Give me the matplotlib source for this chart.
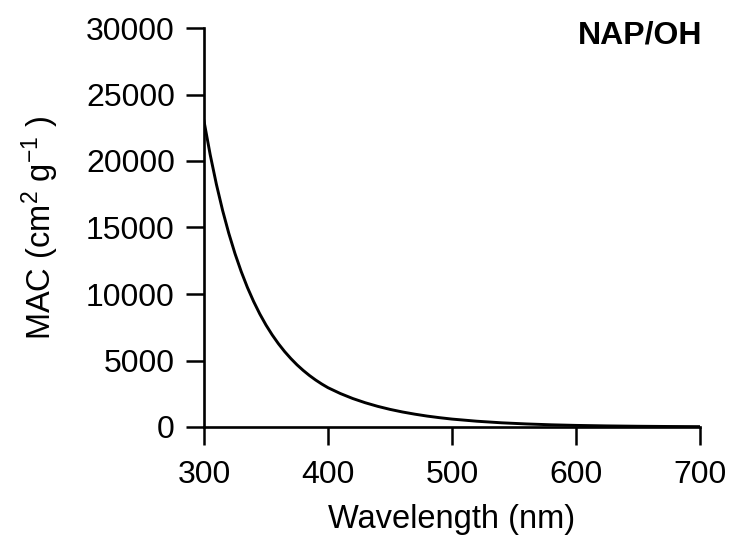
import matplotlib
matplotlib.use("Agg")
import matplotlib.pyplot as plt

plt.rcParams["font.family"] = ["Liberation Sans", "DejaVu Sans"]
plt.rcParams["mathtext.default"] = "regular"

# values
wavelength = [300, 305, 310, 315, 320, 325, 330, 335, 340, 345, 350, 355,
              360, 365, 370, 375, 380, 385, 390, 395, 400, 410, 420, 430,
              440, 450, 460, 470, 480, 490, 500, 520, 540, 560, 580, 600,
              625, 650, 675, 700]
mac = [23000, 20470, 18245, 16285, 14560, 13035, 11690, 10495, 9440, 8500,
       7665, 6925, 6265, 5675, 5150, 4675, 4255, 3875, 3535, 3230, 2955,
       2515, 2140, 1825, 1555, 1325, 1130, 965, 820, 700, 595, 435, 315,
       230, 165, 120, 82, 56, 38, 26]
x_ticks = [300, 400, 500, 600, 700]
y_ticks = [0, 5000, 10000, 15000, 20000, 25000, 30000]

fig = plt.figure(figsize=(7.34, 5.41), dpi=100)
ax = fig.add_axes([204 / 734, 1 - 427 / 541, 496 / 734, 399 / 541])
ax.plot(wavelength, mac, color="black", lw=2.1, solid_joinstyle="round")

ax.set_xlim(300, 700)
ax.set_ylim(0, 30000)
ax.set_xticks(x_ticks)
ax.set_yticks(y_ticks)
for side in ["top", "right"]:
    ax.spines[side].set_visible(False)
for side in ["left", "bottom"]:
    ax.spines[side].set_linewidth(1.9)
ax.tick_params(direction="out", length=13, width=1.8, labelsize=23)
ax.tick_params(axis="x", pad=11)
ax.tick_params(axis="y", pad=8)

ax.set_xlabel("Wavelength (nm)", fontsize=23.5, labelpad=10)
ax.set_ylabel("MAC (cm$^{2}$ g$^{-1}$ )", fontsize=23.5, labelpad=18)
fig.text(702 / 734, 1 - 35 / 541, "NAP/OH", fontsize=23, fontweight="bold",
         ha="right", va="center")

plt.savefig("out.png", dpi=100)
